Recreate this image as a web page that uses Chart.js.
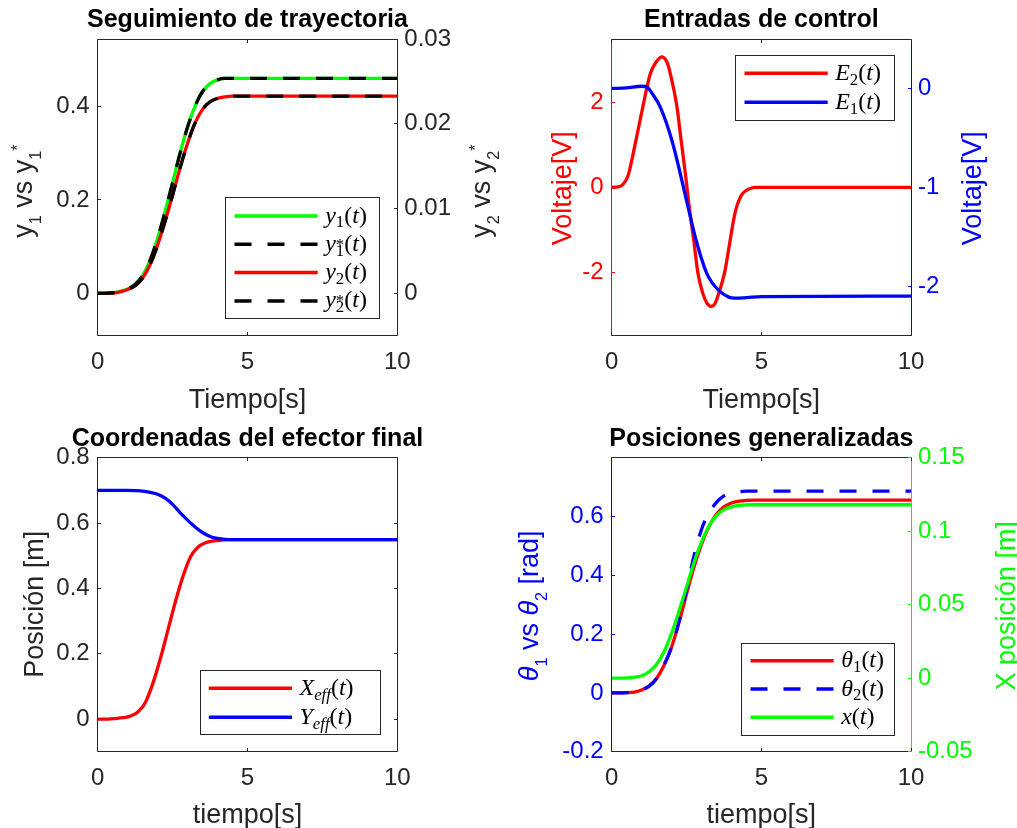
<!DOCTYPE html>
<html lang="es">
<head>
<meta charset="utf-8">
<title>Figura</title>
<script src="https://cdn.jsdelivr.net/npm/chart.js@4.4.1/dist/chart.umd.min.js"></script>
<style>
  html, body { margin: 0; padding: 0; background: #ffffff; }
  #fig { position: relative; width: 1017px; height: 828px; overflow: hidden; }
  #fig canvas { position: absolute; left: 0; top: 0; }
</style>
</head>
<body>
<div id="fig">
  <canvas id="c1" width="1017" height="828"></canvas>
  <canvas id="c2" width="1017" height="828"></canvas>
  <canvas id="c3" width="1017" height="828"></canvas>
  <canvas id="c4" width="1017" height="828"></canvas>
</div>
<script>
// ============================================
// Datos
// ============================================
const xTicks = [0, 5, 10];

// (1) Seguimiento de trayectoria
const tTray = [0, 0.25, 0.5, 0.75, 1, 1.25, 1.5, 1.75, 2, 2.25, 2.5, 2.75, 3, 3.25, 3.5, 3.75, 4, 4.25, 4.5, 5, 6, 7, 8, 9, 10];
const y1 = [0, 0, 0.001, 0.004, 0.009, 0.019, 0.038, 0.071, 0.118, 0.175, 0.237, 0.300, 0.356, 0.401, 0.432, 0.449, 0.457, 0.460, 0.460, 0.460, 0.460, 0.460, 0.460, 0.460, 0.460];
const y1ref = [0, 0, 0.001, 0.004, 0.009, 0.019, 0.038, 0.071, 0.118, 0.175, 0.237, 0.300, 0.356, 0.401, 0.432, 0.449, 0.457, 0.460, 0.460, 0.460, 0.460, 0.460, 0.460, 0.460, 0.460];
const y2 = [0, 0, 0.00004, 0.00018, 0.00045, 0.0009, 0.0018, 0.0034, 0.0057, 0.0085, 0.0116, 0.0148, 0.0177, 0.0201, 0.0217, 0.0226, 0.0230, 0.02318, 0.02326, 0.02326, 0.02326, 0.02326, 0.02326, 0.02326, 0.02326];
const y2ref = [0, 0, 0.00004, 0.00018, 0.00045, 0.0009, 0.0018, 0.0034, 0.0057, 0.0085, 0.0116, 0.0148, 0.0177, 0.0201, 0.0217, 0.0226, 0.0230, 0.02318, 0.02326, 0.02326, 0.02326, 0.02326, 0.02326, 0.02326, 0.02326];
const y1Ticks = [0, 0.2, 0.4];
const y2Ticks = [0, 0.01, 0.02, 0.03];

// (2) Entradas de control
const tE2 = [0, 0.2, 0.3, 0.4, 0.5, 0.57, 0.81, 1.04, 1.29, 1.5, 1.68, 1.85, 1.96, 2.18, 2.32, 2.46, 2.59, 2.74, 2.88, 3.04, 3.18, 3.33, 3.46, 3.58, 3.77, 3.96, 4.05, 4.15, 4.25, 4.35, 4.5, 4.65, 4.8, 10];
const e2 = [0, 0.01, 0.03, 0.09, 0.2, 0.33, 1.11, 1.90, 2.68, 2.97, 3.08, 2.95, 2.68, 1.90, 1.11, 0.33, -0.46, -1.24, -2.02, -2.49, -2.73, -2.81, -2.73, -2.49, -2.02, -1.24, -0.86, -0.52, -0.31, -0.17, -0.07, -0.02, 0, 0];
const tE1 = [0, 0.5, 1.0, 1.2, 1.35, 1.62, 2.01, 2.29, 2.55, 2.82, 3.18, 3.57, 3.91, 4.13, 4.5, 5, 10];
const e1 = [0, 0.006, 0.022, 0.01, -0.05, -0.186, -0.523, -0.86, -1.198, -1.535, -1.872, -2.04, -2.11, -2.12, -2.115, -2.105, -2.10];
const e2Ticks = [-2, 0, 2];
const e1Ticks = [-2, -1, 0];

// (3) Coordenadas del efector final
const tX = [0, 0.35, 0.6, 0.85, 1.1, 1.35, 1.6, 1.85, 2.1, 2.35, 2.6, 2.85, 3.1, 3.35, 3.6, 3.85, 4.1, 4.35, 10];
const xEff = [0, 0, 0.0015, 0.004, 0.0095, 0.0225, 0.0525, 0.1115, 0.1875, 0.2745, 0.3615, 0.4375, 0.4965, 0.5265, 0.5395, 0.545, 0.5475, 0.549, 0.549];
const tY = [0, 1.0, 1.25, 1.5, 1.75, 2.0, 2.25, 2.5, 2.75, 3.0, 3.25, 3.5, 3.75, 4.0, 4.25, 4.5, 10];
const yEff = [0.7, 0.7, 0.6995, 0.698, 0.694, 0.688, 0.676, 0.657, 0.632, 0.609, 0.588, 0.571, 0.559, 0.553, 0.550, 0.549, 0.549];
const posTicks = [0, 0.2, 0.4, 0.6, 0.8];

// (4) Posiciones generalizadas
const tPos = [0, 0.5, 0.75, 1, 1.25, 1.5, 1.75, 2, 2.25, 2.5, 2.75, 3, 3.25, 3.5, 3.75, 4, 4.25, 4.5, 4.75, 10];
const th1 = [0, 0.001, 0.003, 0.010, 0.023, 0.049, 0.094, 0.156, 0.240, 0.336, 0.428, 0.505, 0.566, 0.608, 0.633, 0.646, 0.652, 0.655, 0.656, 0.656];
const th2 = [0, 0.001, 0.003, 0.010, 0.023, 0.049, 0.095, 0.155, 0.243, 0.352, 0.466, 0.556, 0.612, 0.648, 0.670, 0.680, 0.684, 0.686, 0.686, 0.686];
const xCarro = [0, 0.0002, 0.0006, 0.0017, 0.0044, 0.0095, 0.018, 0.0305, 0.0457, 0.062, 0.0785, 0.0925, 0.1035, 0.1106, 0.1147, 0.1166, 0.1175, 0.1179, 0.118, 0.118];
const thTicks = [-0.2, 0, 0.2, 0.4, 0.6];
const xcTicks = [-0.05, 0, 0.05, 0.1, 0.15];

// ============================================
// Estilo
// ============================================
const GRIS = '#262626';
const ROJO = '#ff0000', AZUL = '#0000ff', VERDE = '#00ff00', NEGRO = '#000000';
const SANS = '"Liberation Sans", Arial, Helvetica, sans-serif';
const SERIF = '"Liberation Serif", "Times New Roman", serif';
const DASH = [17, 16];
const tickFont = { family: SANS, size: 24 };
const fmt = (v) => String(Math.round(v * 1000) / 1000);

// texto con subíndices / superíndices
function drawRich(ctx, segs, px, py, o) {
  const items = [];
  let x = 0;
  const ss = o.size * o.scr;
  segs.forEach((s) => {
    if (s.t !== undefined) {
      const f = (s.it ? 'italic ' : '') + o.size + 'px ' + o.fam;
      ctx.font = f;
      items.push({ txt: s.t, f, x, dy: 0 });
      x += ctx.measureText(s.t).width;
    } else {
      let ws = 0, wp = 0;
      if (s.sub) {
        const f = (s.subIt ? 'italic ' : '') + ss + 'px ' + o.fam;
        ctx.font = f;
        items.push({ txt: s.sub, f, x, dy: o.subDy * o.size });
        ws = ctx.measureText(s.sub).width;
      }
      if (s.sup) {
        const f = ss + 'px ' + o.fam;
        ctx.font = f;
        items.push({ txt: s.sup, f, x: o.stack ? x : x + ws, dy: -o.supDy * o.size });
        wp = ctx.measureText(s.sup).width;
      }
      x += o.stack ? Math.max(ws, wp) : ws + wp;
    }
  });
  ctx.save();
  ctx.translate(px, py);
  if (o.rot) ctx.rotate(o.rot);
  ctx.fillStyle = o.color;
  ctx.textAlign = 'left';
  ctx.textBaseline = 'alphabetic';
  const x0 = o.align === 'center' ? -x / 2 : 0;
  items.forEach((it) => { ctx.font = it.f; ctx.fillText(it.txt, x0 + it.x, it.dy); });
  ctx.restore();
}

const axisTxt = { size: 27, fam: SANS, scr: 0.6, subDy: 0.33, supDy: 0.33, stack: false, align: 'center', rot: -Math.PI / 2 };
const legTxt = { size: 24, fam: SERIF, scr: 0.7, subDy: 0.2, supDy: 0.05, stack: true, align: 'left', color: NEGRO };

function seg(ctx, x1, y1, x2, y2, color) {
  ctx.strokeStyle = color;
  ctx.beginPath();
  ctx.moveTo(x1, y1);
  ctx.lineTo(x2, y2);
  ctx.stroke();
}
const px = (v) => Math.floor(v) + 0.5;

// caja, marcas, títulos y leyenda al estilo MATLAB
const decorPlugin = {
  id: 'decor',
  beforeDatasetsDraw(chart, args, o) {
    const { ctx, chartArea: a } = chart;
    const L = px(a.left), R = px(a.right), T = px(a.top), B = px(a.bottom);
    const tl = 3.5;
    ctx.save();
    ctx.lineWidth = 1;
    seg(ctx, L, T, R, T, GRIS);
    seg(ctx, L, B, R, B, GRIS);
    seg(ctx, L, T, L, B, o.leftColor);
    seg(ctx, R, T, R, B, o.rightColor);
    const sx = chart.scales.x;
    sx.ticks.forEach((tk) => {
      const p = px(sx.getPixelForValue(tk.value));
      seg(ctx, p, B, p, B - tl, GRIS);
      seg(ctx, p, T, p, T + tl, GRIS);
    });
    const sy = chart.scales.y, sy2 = chart.scales.y2;
    sy.ticks.forEach((tk) => {
      const p = px(sy.getPixelForValue(tk.value));
      seg(ctx, L, p, L + tl, p, o.leftColor);
      if (!sy2) seg(ctx, R, p, R - tl, p, o.rightColor);
    });
    if (sy2) {
      sy2.ticks.forEach((tk) => {
        const p = px(sy2.getPixelForValue(tk.value));
        seg(ctx, R, p, R - tl, p, o.rightColor);
      });
    }
    ctx.restore();
  },
  afterDraw(chart, args, o) {
    const { ctx, chartArea: a } = chart;
    const cx = (a.left + a.right) / 2;
    ctx.save();
    // título
    ctx.font = 'bold 25px ' + SANS;
    ctx.fillStyle = NEGRO;
    ctx.textAlign = 'center';
    ctx.textBaseline = 'alphabetic';
    ctx.fillText(o.title, cx, a.top - 11.7);
    // eje x
    ctx.font = '27px ' + SANS;
    ctx.fillStyle = GRIS;
    ctx.fillText(o.xLabel, cx, a.bottom + o.xLabelDy);
    ctx.restore();
    // ejes y
    o.yLabels.forEach((lb) => {
      drawRich(ctx, lb.segs, lb.x, lb.y, Object.assign({}, axisTxt, { color: lb.color }));
    });
    // leyenda
    const g = o.legend;
    ctx.save();
    ctx.fillStyle = '#ffffff';
    ctx.fillRect(g.x, g.y, g.w, g.h);
    ctx.lineWidth = 1;
    ctx.strokeStyle = GRIS;
    ctx.strokeRect(px(g.x), px(g.y), Math.round(g.w), Math.round(g.h));
    g.items.forEach((it, i) => {
      const ds = chart.data.datasets[it.ds];
      const cy = g.y + g.row0 + i * g.rowH;
      ctx.setLineDash(ds.borderDash || []);
      ctx.lineWidth = 3.5;
      ctx.strokeStyle = ds.borderColor;
      ctx.beginPath();
      ctx.moveTo(g.x + 8.8, cy);
      ctx.lineTo(g.x + 92, cy);
      ctx.stroke();
      ctx.setLineDash([]);
      drawRich(ctx, it.segs, g.x + 99.5, cy + 6.5, legTxt);
    });
    ctx.restore();
  }
};

function xScale(h) {
  return {
    type: 'linear', min: 0, max: 10,
    grid: { display: false, drawTicks: false }, border: { display: false },
    ticks: { color: GRIS, font: tickFont, padding: 12.6, maxRotation: 0, autoSkip: false, callback: fmt },
    afterBuildTicks: (s) => { s.ticks = xTicks.map((v) => ({ value: v })); },
    afterFit: (s) => { s.height = h; }
  };
}
function yScale(pos, min, max, ticks, color, w, pad) {
  return {
    type: 'linear', position: pos, min, max,
    grid: { display: false, drawTicks: false }, border: { display: false },
    ticks: { color, font: tickFont, padding: pad, autoSkip: false, callback: fmt },
    afterBuildTicks: (s) => { s.ticks = ticks.map((v) => ({ value: v })); },
    afterFit: (s) => { s.width = w; }
  };
}
function serie(t, v, color, axis, order, dash) {
  return {
    data: t.map((x, i) => ({ x, y: v[i] })),
    borderColor: color, borderWidth: 3.3, borderDash: dash || [],
    pointRadius: 0, cubicInterpolationMode: 'monotone', fill: false,
    yAxisID: axis, order
  };
}
function makeChart(id, datasets, scales, padding, decor) {
  return new Chart(document.getElementById(id), {
    type: 'line',
    data: { datasets },
    options: {
      responsive: false, animation: false, devicePixelRatio: 1, events: [],
      layout: { padding },
      scales,
      plugins: { legend: { display: false }, tooltip: { enabled: false }, decor }
    },
    plugins: [decorPlugin]
  });
}

// ============================================
// (1) Seguimiento de trayectoria
// ============================================
makeChart('c1',
  [
    serie(tTray, y1, VERDE, 'y', 3),
    serie(tTray, y1ref, NEGRO, 'y', 2, DASH),
    serie(tTray, y2, ROJO, 'y2', 1),
    serie(tTray, y2ref, NEGRO, 'y2', 0, DASH)
  ],
  {
    x: xScale(828 - 335.7),
    y: yScale('left', -0.0908, 0.5445, y1Ticks, GRIS, 97.7, 8),
    y2: yScale('right', -0.005, 0.03, y2Ticks, GRIS, 1017 - 397.3, 7)
  },
  { top: 39, left: 0, right: 0, bottom: 0 },
  {
    title: 'Seguimiento de trayectoria', xLabel: 'Tiempo[s]', xLabelDy: 72.6,
    leftColor: GRIS, rightColor: GRIS,
    yLabels: [
      { x: 32.3, y: 191, color: GRIS, segs: [{ t: 'y' }, { sub: '1' }, { t: ' vs y' }, { sub: '1', sup: '*' }] },
      { x: 490, y: 191, color: GRIS, segs: [{ t: 'y' }, { sub: '2' }, { t: ' vs y' }, { sub: '2', sup: '*' }] }
    ],
    legend: {
      x: 225.7, y: 197.7, w: 154.3, h: 121.3, row0: 18.3, rowH: 28.3,
      items: [
        { ds: 0, segs: [{ t: 'y', it: 1 }, { sub: '1' }, { t: '(' }, { t: 't', it: 1 }, { t: ')' }] },
        { ds: 1, segs: [{ t: 'y', it: 1 }, { sub: '1', sup: '*' }, { t: '(' }, { t: 't', it: 1 }, { t: ')' }] },
        { ds: 2, segs: [{ t: 'y', it: 1 }, { sub: '2' }, { t: '(' }, { t: 't', it: 1 }, { t: ')' }] },
        { ds: 3, segs: [{ t: 'y', it: 1 }, { sub: '2', sup: '*' }, { t: '(' }, { t: 't', it: 1 }, { t: ')' }] }
      ]
    }
  }
);

// ============================================
// (2) Entradas de control
// ============================================
makeChart('c2',
  [
    serie(tE2, e2, ROJO, 'y', 1),
    serie(tE1, e1, AZUL, 'y2', 0)
  ],
  {
    x: xScale(828 - 335.7),
    y: yScale('left', -3.5, 3.5, e2Ticks, ROJO, 611.7, 8),
    y2: yScale('right', -2.5, 0.5, e1Ticks, AZUL, 1017 - 911, 7)
  },
  { top: 39, left: 0, right: 0, bottom: 0 },
  {
    title: 'Entradas de control', xLabel: 'Tiempo[s]', xLabelDy: 72.6,
    leftColor: ROJO, rightColor: AZUL,
    yLabels: [
      { x: 571, y: 188.3, color: ROJO, segs: [{ t: 'Voltaje[V]' }] },
      { x: 981, y: 188.3, color: AZUL, segs: [{ t: 'Voltaje[V]' }] }
    ],
    legend: {
      x: 735.7, y: 55.7, w: 159.3, h: 65, row0: 17.6, rowH: 29,
      items: [
        { ds: 0, segs: [{ t: 'E', it: 1 }, { sub: '2' }, { t: '(' }, { t: 't', it: 1 }, { t: ')' }] },
        { ds: 1, segs: [{ t: 'E', it: 1 }, { sub: '1' }, { t: '(' }, { t: 't', it: 1 }, { t: ')' }] }
      ]
    }
  }
);

// ============================================
// (3) Coordenadas del efector final
// ============================================
makeChart('c3',
  [
    serie(tX, xEff, ROJO, 'y', 1),
    serie(tY, yEff, AZUL, 'y', 0)
  ],
  {
    x: xScale(828 - 751.7),
    y: yScale('left', -0.1, 0.8, posTicks, GRIS, 97.7, 8)
  },
  { top: 457.7, left: 0, right: 1017 - 397.3, bottom: 0 },
  {
    title: 'Coordenadas del efector final', xLabel: 'tiempo[s]', xLabelDy: 71.6,
    leftColor: GRIS, rightColor: GRIS,
    yLabels: [
      { x: 43.3, y: 604.2, color: GRIS, segs: [{ t: 'Posición [m]' }] }
    ],
    legend: {
      x: 200, y: 670.7, w: 180, h: 64.3, row0: 17.6, rowH: 29,
      items: [
        { ds: 0, segs: [{ t: 'X', it: 1 }, { sub: 'eff', subIt: 1 }, { t: '(' }, { t: 't', it: 1 }, { t: ')' }] },
        { ds: 1, segs: [{ t: 'Y', it: 1 }, { sub: 'eff', subIt: 1 }, { t: '(' }, { t: 't', it: 1 }, { t: ')' }] }
      ]
    }
  }
);

// ============================================
// (4) Posiciones generalizadas
// ============================================
makeChart('c4',
  [
    serie(tPos, th1, ROJO, 'y', 2),
    serie(tPos, th2, AZUL, 'y', 1, DASH),
    serie(tPos, xCarro, VERDE, 'y2', 0)
  ],
  {
    x: xScale(828 - 751.7),
    y: yScale('left', -0.2, 0.8, thTicks, AZUL, 611.7, 8),
    y2: yScale('right', -0.05, 0.15, xcTicks, VERDE, 1017 - 911, 7)
  },
  { top: 457.7, left: 0, right: 0, bottom: 0 },
  {
    title: 'Posiciones generalizadas', xLabel: 'tiempo[s]', xLabelDy: 71.6,
    leftColor: AZUL, rightColor: VERDE,
    yLabels: [
      { x: 538.3, y: 605.8, color: AZUL, segs: [{ t: 'θ', it: 1 }, { sub: '1' }, { t: ' vs ' }, { t: 'θ', it: 1 }, { sub: '2' }, { t: ' [rad]' }] },
      { x: 1015, y: 605.8, color: VERDE, segs: [{ t: 'X posición [m]' }] }
    ],
    legend: {
      x: 741.7, y: 643.3, w: 153.3, h: 91.7, row0: 17.4, rowH: 28.3,
      items: [
        { ds: 0, segs: [{ t: 'θ', it: 1 }, { sub: '1' }, { t: '(' }, { t: 't', it: 1 }, { t: ')' }] },
        { ds: 1, segs: [{ t: 'θ', it: 1 }, { sub: '2' }, { t: '(' }, { t: 't', it: 1 }, { t: ')' }] },
        { ds: 2, segs: [{ t: 'x', it: 1 }, { t: '(' }, { t: 't', it: 1 }, { t: ')' }] }
      ]
    }
  }
);
</script>
</body>
</html>
